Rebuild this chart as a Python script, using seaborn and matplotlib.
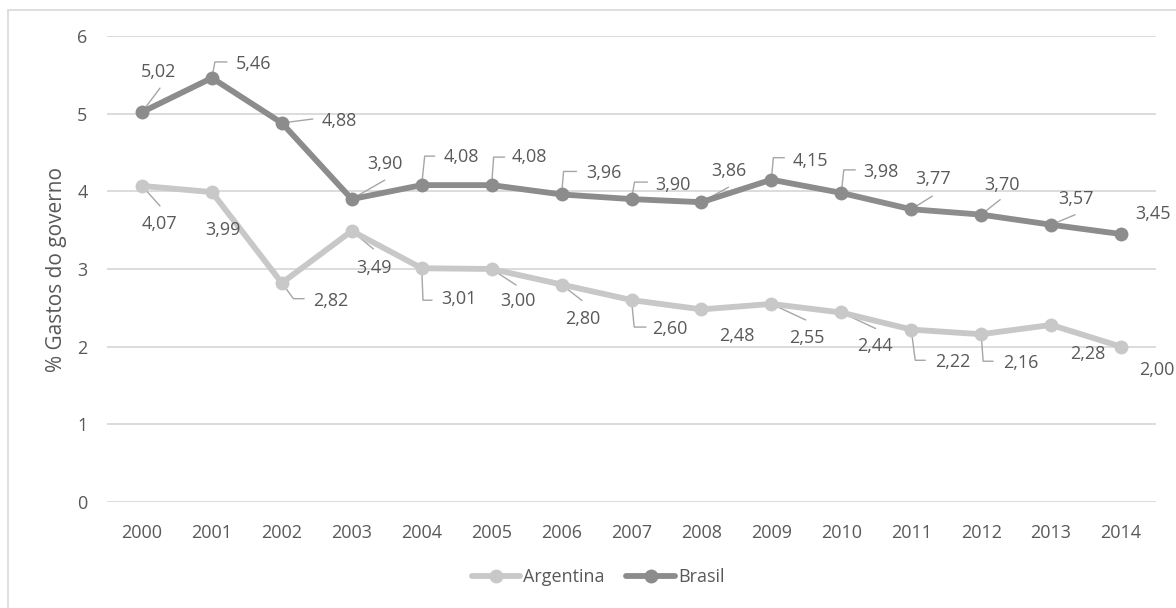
import numpy as np
import pandas as pd
import seaborn as sns
import matplotlib
matplotlib.use("Agg")
import matplotlib.pyplot as plt
from matplotlib.lines import Line2D
from matplotlib.patches import Rectangle
from matplotlib.transforms import Affine2D

# ---- data -------------------------------------------------------------
years = [2000, 2001, 2002, 2003, 2004, 2005, 2006, 2007,
         2008, 2009, 2010, 2011, 2012, 2013, 2014]
argentina = [4.07, 3.99, 2.82, 3.49, 3.01, 3.00, 2.80, 2.60,
             2.48, 2.55, 2.44, 2.22, 2.16, 2.28, 2.00]
brasil = [5.02, 5.46, 4.88, 3.90, 4.08, 4.08, 3.96, 3.90,
          3.86, 4.15, 3.98, 3.77, 3.70, 3.57, 3.45]
series_names = ["Argentina", "Brasil"]
y_ticks = [0, 1, 2, 3, 4, 5, 6]
y_title = "% Gastos do governo"

# ---- label placement (pixel offsets from each point, y up) ------------
brasil_text_off = [(17, 40), (42, 14), (57, 2), (33, 35), (40, 28), (38, 28),
                   (42, 21), (41, 14), (27, 31), (39, 19), (40, 21),
                   (22, 30), (21, 30), (25, 26), (32, 20)]
brasil_leaders = [[(0, 0), (18, 24)],
                  [(0, 0), (3, 16), (15, 16)],
                  [(0, 0), (31, 4)],
                  [(0, 0), (33, 19)],
                  [(0, 0), (3, 29), (13, 29)],
                  [(0, 0), (2, 28), (13, 28)],
                  [(0, 0), (2, 23), (15, 23)],
                  [(0, 0), (3, 17), (16, 17)],
                  [(0, 0), (27, 15)],
                  [(0, 0), (2, 22), (13, 22)],
                  [(0, 0), (2.5, 23), (14, 23)],
                  [(0, 0), (21, 13)],
                  [(0, 0), (19, 15)],
                  [(0, 0), (24, 10)],
                  None]
argentina_text_off = [(17, -38), (11, -38), (49, -18), (22, -37), (37, -31),
                      (26, -32), (21, -34), (38, -29), (35, -27), (35, -34),
                      (34, -34), (42, -32), (40, -29), (37, -29), (36, -23)]
argentina_leaders = [[(0, 0), (18, -20)],
                     [(0, 0), (12, -18)],
                     [(0, 0), (11.6, -15.7), (22.3, -15.7)],
                     [(0, 0), (21.6, -18)],
                     [(0, 0), (1.3, -32), (10.3, -32)],
                     [(0, 0), (24.4, -16)],
                     [(0, 0), (20.4, -16)],
                     [(0, 0), (2.7, -27), (14.4, -27)],
                     None,
                     [(0, 0), (34.3, -16)],
                     [(0, 0), (34.3, -16)],
                     [(0, 0), (4, -30.7), (14, -30.7)],
                     [(0, 0), (2, -27), (12, -27)],
                     [(0, 0), (36, -11.3)],
                     None]

# ---- styling ----------------------------------------------------------
TEXT = "#595959"
GRID = "#d9d9d9"
LEADER = "#a6a6a6"
colors = {"Argentina": "#c8c8c8", "Brasil": "#8c8c8c"}

sns.set_theme(style="white")
plt.rcParams["font.family"] = ["Open Sans", "DejaVu Sans"]
plt.rcParams["text.color"] = TEXT

W, H, DPI = 1176, 608, 100
fig = plt.figure(figsize=(W / DPI, H / DPI), dpi=DPI)
left_px, right_px, top_px, bottom_px = 107, 1156, 36, 502
ax = fig.add_axes([left_px / W, 1 - bottom_px / H,
                   (right_px - left_px) / W, (bottom_px - top_px) / H])

df = pd.DataFrame({
    "idx": list(range(len(years))) * 2,
    "valor": argentina + brasil,
    "pais": [series_names[0]] * len(years) + [series_names[1]] * len(years),
})

sns.lineplot(data=df, x="idx", y="valor", hue="pais", palette=colors,
             hue_order=series_names, marker="o", markersize=10,
             markeredgewidth=0, linewidth=4.2, legend=False, ax=ax,
             zorder=3)

ax.set_xlim(-0.5, len(years) - 0.5)
ax.set_ylim(min(y_ticks), max(y_ticks))
ax.set_yticks(y_ticks)
ax.set_yticklabels([str(t) for t in y_ticks])
ax.set_xticks(range(len(years)))
ax.set_xticklabels([str(y) for y in years])
ax.tick_params(axis="both", length=0, labelsize=13, colors=TEXT)
ax.tick_params(axis="y", pad=14)
ax.tick_params(axis="x", pad=16)
ax.set_xlabel("")
ax.set_ylabel(y_title, fontsize=15, color=TEXT, labelpad=7)
ax.grid(axis="y", color=GRID, linewidth=1.3)
ax.grid(axis="x", visible=False)
for s in ax.spines.values():
    s.set_visible(False)
ax.set_axisbelow(True)


def fmt(v):
    return f"{v:.2f}".replace(".", ",")


def label_series(values, text_off, leaders):
    for i, v in enumerate(values):
        px, py = ax.transData.transform((i, v))
        if leaders[i] is not None:
            xs = [p[0] for p in leaders[i]]
            ys = [p[1] for p in leaders[i]]
            ax.add_line(Line2D(xs, ys, color=LEADER, linewidth=1.0,
                               transform=Affine2D().translate(px, py),
                               zorder=2))
        ax.annotate(fmt(v), xy=(i, v), xytext=text_off[i],
                    textcoords="offset pixels", ha="center", va="center",
                    fontsize=13, color=TEXT, zorder=5, annotation_clip=False)


label_series(brasil, brasil_text_off, brasil_leaders)
label_series(argentina, argentina_text_off, argentina_leaders)

handles = [Line2D([], [], color=colors[n], marker="o", markersize=10,
                  markeredgewidth=0, linewidth=4.2) for n in series_names]
fig.legend(handles, series_names, loc="center",
           bbox_to_anchor=(598 / W, 1 - 577 / H), ncol=2, frameon=False,
           fontsize=13, handlelength=2.7, handletextpad=0.15,
           columnspacing=1.2, labelcolor=TEXT)

fig.patches.append(Rectangle((8 / W, -0.1), 1.2, 1.1 - 10 / H,
                             transform=fig.transFigure, fill=False,
                             edgecolor=GRID, linewidth=1.2))

fig.savefig("out.png", dpi=DPI)
